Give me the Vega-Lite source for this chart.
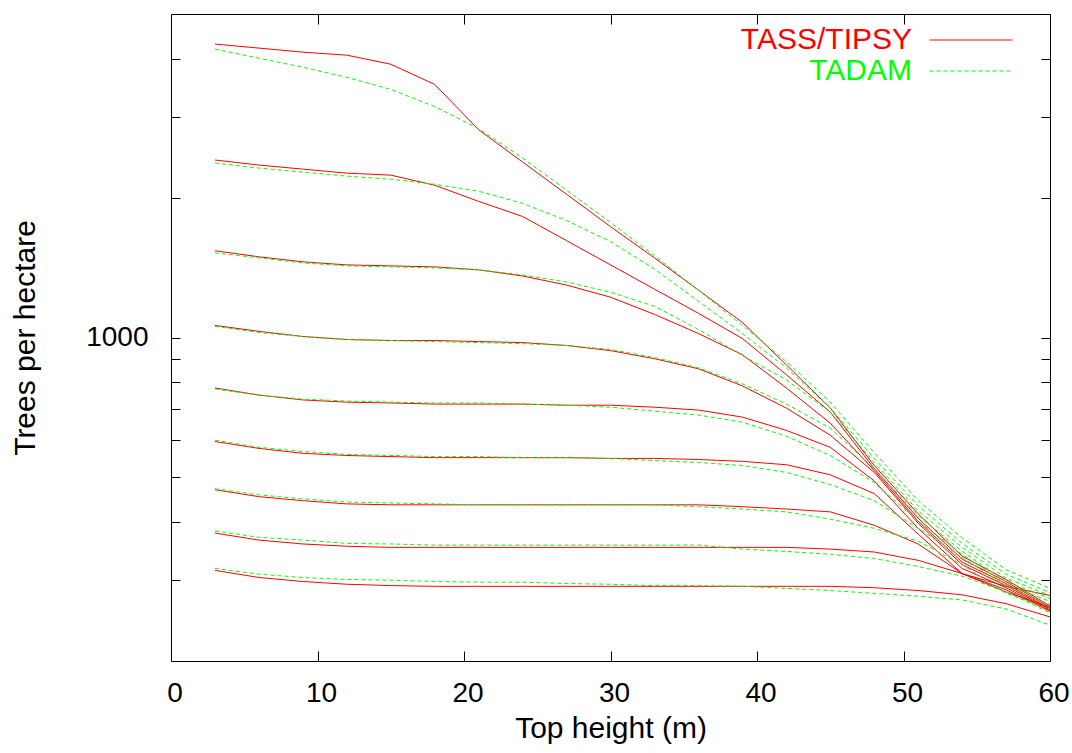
{
  "$schema": "https://vega.github.io/schema/vega-lite/v6.json",
  "width": 879,
  "height": 647,
  "autosize": {"type": "none"},
  "padding": {"left": 171, "top": 14, "right": 22, "bottom": 92},
  "background": "white",
  "config": {
    "view": {"stroke": null},
    "font": "Liberation Sans",
    "axis": {"grid": false, "domainColor": "black", "tickColor": "black", "labelColor": "black", "titleColor": "black", "labelFontSize": 28, "titleFontSize": 30, "titleFontWeight": "normal", "labelFont": "Liberation Sans", "titleFont": "Liberation Sans", "domainWidth": 1, "tickWidth": 1}
  },
  "datasets": {
    "tass": [
      {"model":"TASS/TIPSY","id":1,"h":3,"n":4305},{"model":"TASS/TIPSY","id":1,"h":6,"n":4220},{"model":"TASS/TIPSY","id":1,"h":9,"n":4135},{"model":"TASS/TIPSY","id":1,"h":12,"n":4074},{"model":"TASS/TIPSY","id":1,"h":15,"n":3894},{"model":"TASS/TIPSY","id":1,"h":18,"n":3522},{"model":"TASS/TIPSY","id":1,"h":21,"n":2811},{"model":"TASS/TIPSY","id":1,"h":24,"n":2394},{"model":"TASS/TIPSY","id":1,"h":27,"n":2039},{"model":"TASS/TIPSY","id":1,"h":30,"n":1736},{"model":"TASS/TIPSY","id":1,"h":33,"n":1486},{"model":"TASS/TIPSY","id":1,"h":36,"n":1266},{"model":"TASS/TIPSY","id":1,"h":39,"n":1078},{"model":"TASS/TIPSY","id":1,"h":42,"n":873},{"model":"TASS/TIPSY","id":1,"h":45,"n":704},{"model":"TASS/TIPSY","id":1,"h":48,"n":529},{"model":"TASS/TIPSY","id":1,"h":51,"n":416},{"model":"TASS/TIPSY","id":1,"h":54,"n":337},{"model":"TASS/TIPSY","id":1,"h":57,"n":300},{"model":"TASS/TIPSY","id":1,"h":60,"n":263},
      {"model":"TASS/TIPSY","id":2,"h":3,"n":2418},{"model":"TASS/TIPSY","id":2,"h":6,"n":2358},{"model":"TASS/TIPSY","id":2,"h":9,"n":2311},{"model":"TASS/TIPSY","id":2,"h":12,"n":2265},{"model":"TASS/TIPSY","id":2,"h":15,"n":2243},{"model":"TASS/TIPSY","id":2,"h":18,"n":2133},{"model":"TASS/TIPSY","id":2,"h":21,"n":1968},{"model":"TASS/TIPSY","id":2,"h":24,"n":1826},{"model":"TASS/TIPSY","id":2,"h":27,"n":1619},{"model":"TASS/TIPSY","id":2,"h":30,"n":1435},{"model":"TASS/TIPSY","id":2,"h":33,"n":1272},{"model":"TASS/TIPSY","id":2,"h":36,"n":1128},{"model":"TASS/TIPSY","id":2,"h":39,"n":995},{"model":"TASS/TIPSY","id":2,"h":42,"n":831},{"model":"TASS/TIPSY","id":2,"h":45,"n":690},{"model":"TASS/TIPSY","id":2,"h":48,"n":521},{"model":"TASS/TIPSY","id":2,"h":51,"n":407},{"model":"TASS/TIPSY","id":2,"h":54,"n":332},{"model":"TASS/TIPSY","id":2,"h":57,"n":297},{"model":"TASS/TIPSY","id":2,"h":60,"n":261},
      {"model":"TASS/TIPSY","id":3,"h":3,"n":1540},{"model":"TASS/TIPSY","id":3,"h":6,"n":1494},{"model":"TASS/TIPSY","id":3,"h":9,"n":1457},{"model":"TASS/TIPSY","id":3,"h":12,"n":1435},{"model":"TASS/TIPSY","id":3,"h":15,"n":1428},{"model":"TASS/TIPSY","id":3,"h":18,"n":1421},{"model":"TASS/TIPSY","id":3,"h":21,"n":1400},{"model":"TASS/TIPSY","id":3,"h":24,"n":1358},{"model":"TASS/TIPSY","id":3,"h":27,"n":1298},{"model":"TASS/TIPSY","id":3,"h":30,"n":1222},{"model":"TASS/TIPSY","id":3,"h":33,"n":1122},{"model":"TASS/TIPSY","id":3,"h":36,"n":1020},{"model":"TASS/TIPSY","id":3,"h":39,"n":918},{"model":"TASS/TIPSY","id":3,"h":42,"n":778},{"model":"TASS/TIPSY","id":3,"h":45,"n":653},{"model":"TASS/TIPSY","id":3,"h":48,"n":516},{"model":"TASS/TIPSY","id":3,"h":51,"n":401},{"model":"TASS/TIPSY","id":3,"h":54,"n":327},{"model":"TASS/TIPSY","id":3,"h":57,"n":294},{"model":"TASS/TIPSY","id":3,"h":60,"n":259},
      {"model":"TASS/TIPSY","id":4,"h":3,"n":1062},{"model":"TASS/TIPSY","id":4,"h":6,"n":1031},{"model":"TASS/TIPSY","id":4,"h":9,"n":1005},{"model":"TASS/TIPSY","id":4,"h":12,"n":990},{"model":"TASS/TIPSY","id":4,"h":15,"n":985},{"model":"TASS/TIPSY","id":4,"h":18,"n":985},{"model":"TASS/TIPSY","id":4,"h":21,"n":980},{"model":"TASS/TIPSY","id":4,"h":24,"n":975},{"model":"TASS/TIPSY","id":4,"h":27,"n":961},{"model":"TASS/TIPSY","id":4,"h":30,"n":937},{"model":"TASS/TIPSY","id":4,"h":33,"n":900},{"model":"TASS/TIPSY","id":4,"h":36,"n":856},{"model":"TASS/TIPSY","id":4,"h":39,"n":786},{"model":"TASS/TIPSY","id":4,"h":42,"n":704},{"model":"TASS/TIPSY","id":4,"h":45,"n":615},{"model":"TASS/TIPSY","id":4,"h":48,"n":511},{"model":"TASS/TIPSY","id":4,"h":51,"n":397},{"model":"TASS/TIPSY","id":4,"h":54,"n":323},{"model":"TASS/TIPSY","id":4,"h":57,"n":291},{"model":"TASS/TIPSY","id":4,"h":60,"n":258},
      {"model":"TASS/TIPSY","id":5,"h":3,"n":778},{"model":"TASS/TIPSY","id":5,"h":6,"n":751},{"model":"TASS/TIPSY","id":5,"h":9,"n":733},{"model":"TASS/TIPSY","id":5,"h":12,"n":725},{"model":"TASS/TIPSY","id":5,"h":15,"n":722},{"model":"TASS/TIPSY","id":5,"h":18,"n":718},{"model":"TASS/TIPSY","id":5,"h":21,"n":718},{"model":"TASS/TIPSY","id":5,"h":24,"n":718},{"model":"TASS/TIPSY","id":5,"h":27,"n":714},{"model":"TASS/TIPSY","id":5,"h":30,"n":714},{"model":"TASS/TIPSY","id":5,"h":33,"n":707},{"model":"TASS/TIPSY","id":5,"h":36,"n":697},{"model":"TASS/TIPSY","id":5,"h":39,"n":673},{"model":"TASS/TIPSY","id":5,"h":42,"n":630},{"model":"TASS/TIPSY","id":5,"h":45,"n":579},{"model":"TASS/TIPSY","id":5,"h":48,"n":490},{"model":"TASS/TIPSY","id":5,"h":51,"n":387},{"model":"TASS/TIPSY","id":5,"h":54,"n":317},{"model":"TASS/TIPSY","id":5,"h":57,"n":288},{"model":"TASS/TIPSY","id":5,"h":60,"n":257},
      {"model":"TASS/TIPSY","id":6,"h":3,"n":596},{"model":"TASS/TIPSY","id":6,"h":6,"n":576},{"model":"TASS/TIPSY","id":6,"h":9,"n":562},{"model":"TASS/TIPSY","id":6,"h":12,"n":556},{"model":"TASS/TIPSY","id":6,"h":15,"n":553},{"model":"TASS/TIPSY","id":6,"h":18,"n":550},{"model":"TASS/TIPSY","id":6,"h":21,"n":550},{"model":"TASS/TIPSY","id":6,"h":24,"n":550},{"model":"TASS/TIPSY","id":6,"h":27,"n":550},{"model":"TASS/TIPSY","id":6,"h":30,"n":548},{"model":"TASS/TIPSY","id":6,"h":33,"n":548},{"model":"TASS/TIPSY","id":6,"h":36,"n":545},{"model":"TASS/TIPSY","id":6,"h":39,"n":540},{"model":"TASS/TIPSY","id":6,"h":42,"n":531},{"model":"TASS/TIPSY","id":6,"h":45,"n":505},{"model":"TASS/TIPSY","id":6,"h":48,"n":460},{"model":"TASS/TIPSY","id":6,"h":51,"n":376},{"model":"TASS/TIPSY","id":6,"h":54,"n":309},{"model":"TASS/TIPSY","id":6,"h":57,"n":285},{"model":"TASS/TIPSY","id":6,"h":60,"n":256},
      {"model":"TASS/TIPSY","id":7,"h":3,"n":469},{"model":"TASS/TIPSY","id":7,"h":6,"n":453},{"model":"TASS/TIPSY","id":7,"h":9,"n":444},{"model":"TASS/TIPSY","id":7,"h":12,"n":437},{"model":"TASS/TIPSY","id":7,"h":15,"n":435},{"model":"TASS/TIPSY","id":7,"h":18,"n":435},{"model":"TASS/TIPSY","id":7,"h":21,"n":435},{"model":"TASS/TIPSY","id":7,"h":24,"n":435},{"model":"TASS/TIPSY","id":7,"h":27,"n":435},{"model":"TASS/TIPSY","id":7,"h":30,"n":435},{"model":"TASS/TIPSY","id":7,"h":33,"n":435},{"model":"TASS/TIPSY","id":7,"h":36,"n":435},{"model":"TASS/TIPSY","id":7,"h":39,"n":431},{"model":"TASS/TIPSY","id":7,"h":42,"n":426},{"model":"TASS/TIPSY","id":7,"h":45,"n":420},{"model":"TASS/TIPSY","id":7,"h":48,"n":393},{"model":"TASS/TIPSY","id":7,"h":51,"n":358},{"model":"TASS/TIPSY","id":7,"h":54,"n":309},{"model":"TASS/TIPSY","id":7,"h":57,"n":282},{"model":"TASS/TIPSY","id":7,"h":60,"n":261},
      {"model":"TASS/TIPSY","id":8,"h":3,"n":378},{"model":"TASS/TIPSY","id":8,"h":6,"n":365},{"model":"TASS/TIPSY","id":8,"h":9,"n":358},{"model":"TASS/TIPSY","id":8,"h":12,"n":354},{"model":"TASS/TIPSY","id":8,"h":15,"n":352},{"model":"TASS/TIPSY","id":8,"h":18,"n":352},{"model":"TASS/TIPSY","id":8,"h":21,"n":352},{"model":"TASS/TIPSY","id":8,"h":24,"n":352},{"model":"TASS/TIPSY","id":8,"h":27,"n":352},{"model":"TASS/TIPSY","id":8,"h":30,"n":352},{"model":"TASS/TIPSY","id":8,"h":33,"n":352},{"model":"TASS/TIPSY","id":8,"h":36,"n":352},{"model":"TASS/TIPSY","id":8,"h":39,"n":352},{"model":"TASS/TIPSY","id":8,"h":42,"n":352},{"model":"TASS/TIPSY","id":8,"h":45,"n":349},{"model":"TASS/TIPSY","id":8,"h":48,"n":344},{"model":"TASS/TIPSY","id":8,"h":51,"n":330},{"model":"TASS/TIPSY","id":8,"h":54,"n":309},{"model":"TASS/TIPSY","id":8,"h":57,"n":290},{"model":"TASS/TIPSY","id":8,"h":60,"n":277},
      {"model":"TASS/TIPSY","id":9,"h":3,"n":314},{"model":"TASS/TIPSY","id":9,"h":6,"n":303},{"model":"TASS/TIPSY","id":9,"h":9,"n":297},{"model":"TASS/TIPSY","id":9,"h":12,"n":293},{"model":"TASS/TIPSY","id":9,"h":15,"n":291},{"model":"TASS/TIPSY","id":9,"h":18,"n":290},{"model":"TASS/TIPSY","id":9,"h":21,"n":290},{"model":"TASS/TIPSY","id":9,"h":24,"n":290},{"model":"TASS/TIPSY","id":9,"h":27,"n":290},{"model":"TASS/TIPSY","id":9,"h":30,"n":290},{"model":"TASS/TIPSY","id":9,"h":33,"n":290},{"model":"TASS/TIPSY","id":9,"h":36,"n":290},{"model":"TASS/TIPSY","id":9,"h":39,"n":290},{"model":"TASS/TIPSY","id":9,"h":42,"n":290},{"model":"TASS/TIPSY","id":9,"h":45,"n":290},{"model":"TASS/TIPSY","id":9,"h":48,"n":288},{"model":"TASS/TIPSY","id":9,"h":51,"n":284},{"model":"TASS/TIPSY","id":9,"h":54,"n":278},{"model":"TASS/TIPSY","id":9,"h":57,"n":266},{"model":"TASS/TIPSY","id":9,"h":60,"n":249}
    ],
    "tadam": [
      {"model":"TADAM","id":1,"h":3,"n":4198},{"model":"TADAM","id":1,"h":6,"n":4013},{"model":"TADAM","id":1,"h":9,"n":3836},{"model":"TADAM","id":1,"h":12,"n":3648},{"model":"TADAM","id":1,"h":15,"n":3435},{"model":"TADAM","id":1,"h":18,"n":3154},{"model":"TADAM","id":1,"h":21,"n":2825},{"model":"TADAM","id":1,"h":24,"n":2442},{"model":"TADAM","id":1,"h":27,"n":2080},{"model":"TADAM","id":1,"h":30,"n":1772},{"model":"TADAM","id":1,"h":33,"n":1501},{"model":"TADAM","id":1,"h":36,"n":1266},{"model":"TADAM","id":1,"h":39,"n":1062},{"model":"TADAM","id":1,"h":42,"n":887},{"model":"TADAM","id":1,"h":45,"n":725},{"model":"TADAM","id":1,"h":48,"n":564},{"model":"TADAM","id":1,"h":51,"n":444},{"model":"TADAM","id":1,"h":54,"n":369},{"model":"TADAM","id":1,"h":57,"n":315},{"model":"TADAM","id":1,"h":60,"n":287},
      {"model":"TADAM","id":2,"h":3,"n":2382},{"model":"TADAM","id":2,"h":6,"n":2323},{"model":"TADAM","id":2,"h":9,"n":2277},{"model":"TADAM","id":2,"h":12,"n":2232},{"model":"TADAM","id":2,"h":15,"n":2198},{"model":"TADAM","id":2,"h":18,"n":2143},{"model":"TADAM","id":2,"h":21,"n":2070},{"model":"TADAM","id":2,"h":24,"n":1949},{"model":"TADAM","id":2,"h":27,"n":1789},{"model":"TADAM","id":2,"h":30,"n":1611},{"model":"TADAM","id":2,"h":33,"n":1406},{"model":"TADAM","id":2,"h":36,"n":1198},{"model":"TADAM","id":2,"h":39,"n":1020},{"model":"TADAM","id":2,"h":42,"n":860},{"model":"TADAM","id":2,"h":45,"n":704},{"model":"TADAM","id":2,"h":48,"n":548},{"model":"TADAM","id":2,"h":51,"n":433},{"model":"TADAM","id":2,"h":54,"n":359},{"model":"TADAM","id":2,"h":57,"n":308},{"model":"TADAM","id":2,"h":60,"n":281},
      {"model":"TADAM","id":3,"h":3,"n":1524},{"model":"TADAM","id":3,"h":6,"n":1486},{"model":"TADAM","id":3,"h":9,"n":1449},{"model":"TADAM","id":3,"h":12,"n":1428},{"model":"TADAM","id":3,"h":15,"n":1421},{"model":"TADAM","id":3,"h":18,"n":1414},{"model":"TADAM","id":3,"h":21,"n":1400},{"model":"TADAM","id":3,"h":24,"n":1365},{"model":"TADAM","id":3,"h":27,"n":1318},{"model":"TADAM","id":3,"h":30,"n":1253},{"model":"TADAM","id":3,"h":33,"n":1168},{"model":"TADAM","id":3,"h":36,"n":1041},{"model":"TADAM","id":3,"h":39,"n":914},{"model":"TADAM","id":3,"h":42,"n":810},{"model":"TADAM","id":3,"h":45,"n":690},{"model":"TADAM","id":3,"h":48,"n":537},{"model":"TADAM","id":3,"h":51,"n":422},{"model":"TADAM","id":3,"h":54,"n":352},{"model":"TADAM","id":3,"h":57,"n":302},{"model":"TADAM","id":3,"h":60,"n":277},
      {"model":"TADAM","id":4,"h":3,"n":1057},{"model":"TADAM","id":4,"h":6,"n":1025},{"model":"TADAM","id":4,"h":9,"n":1005},{"model":"TADAM","id":4,"h":12,"n":990},{"model":"TADAM","id":4,"h":15,"n":985},{"model":"TADAM","id":4,"h":18,"n":980},{"model":"TADAM","id":4,"h":21,"n":975},{"model":"TADAM","id":4,"h":24,"n":970},{"model":"TADAM","id":4,"h":27,"n":961},{"model":"TADAM","id":4,"h":30,"n":942},{"model":"TADAM","id":4,"h":33,"n":905},{"model":"TADAM","id":4,"h":36,"n":860},{"model":"TADAM","id":4,"h":39,"n":794},{"model":"TADAM","id":4,"h":42,"n":718},{"model":"TADAM","id":4,"h":45,"n":637},{"model":"TADAM","id":4,"h":48,"n":521},{"model":"TADAM","id":4,"h":51,"n":412},{"model":"TADAM","id":4,"h":54,"n":345},{"model":"TADAM","id":4,"h":57,"n":297},{"model":"TADAM","id":4,"h":60,"n":273},
      {"model":"TADAM","id":5,"h":3,"n":774},{"model":"TADAM","id":5,"h":6,"n":751},{"model":"TADAM","id":5,"h":9,"n":736},{"model":"TADAM","id":5,"h":12,"n":729},{"model":"TADAM","id":5,"h":15,"n":725},{"model":"TADAM","id":5,"h":18,"n":722},{"model":"TADAM","id":5,"h":21,"n":722},{"model":"TADAM","id":5,"h":24,"n":718},{"model":"TADAM","id":5,"h":27,"n":714},{"model":"TADAM","id":5,"h":30,"n":707},{"model":"TADAM","id":5,"h":33,"n":693},{"model":"TADAM","id":5,"h":36,"n":680},{"model":"TADAM","id":5,"h":39,"n":656},{"model":"TADAM","id":5,"h":42,"n":612},{"model":"TADAM","id":5,"h":45,"n":556},{"model":"TADAM","id":5,"h":48,"n":486},{"model":"TADAM","id":5,"h":51,"n":401},{"model":"TADAM","id":5,"h":54,"n":340},{"model":"TADAM","id":5,"h":57,"n":293},{"model":"TADAM","id":5,"h":60,"n":269},
      {"model":"TADAM","id":6,"h":3,"n":600},{"model":"TADAM","id":6,"h":6,"n":579},{"model":"TADAM","id":6,"h":9,"n":567},{"model":"TADAM","id":6,"h":12,"n":559},{"model":"TADAM","id":6,"h":15,"n":556},{"model":"TADAM","id":6,"h":18,"n":553},{"model":"TADAM","id":6,"h":21,"n":553},{"model":"TADAM","id":6,"h":24,"n":550},{"model":"TADAM","id":6,"h":27,"n":550},{"model":"TADAM","id":6,"h":30,"n":548},{"model":"TADAM","id":6,"h":33,"n":542},{"model":"TADAM","id":6,"h":36,"n":537},{"model":"TADAM","id":6,"h":39,"n":529},{"model":"TADAM","id":6,"h":42,"n":511},{"model":"TADAM","id":6,"h":45,"n":481},{"model":"TADAM","id":6,"h":48,"n":444},{"model":"TADAM","id":6,"h":51,"n":387},{"model":"TADAM","id":6,"h":54,"n":335},{"model":"TADAM","id":6,"h":57,"n":290},{"model":"TADAM","id":6,"h":60,"n":265},
      {"model":"TADAM","id":7,"h":3,"n":471},{"model":"TADAM","id":7,"h":6,"n":457},{"model":"TADAM","id":7,"h":9,"n":448},{"model":"TADAM","id":7,"h":12,"n":441},{"model":"TADAM","id":7,"h":15,"n":439},{"model":"TADAM","id":7,"h":18,"n":437},{"model":"TADAM","id":7,"h":21,"n":435},{"model":"TADAM","id":7,"h":24,"n":435},{"model":"TADAM","id":7,"h":27,"n":435},{"model":"TADAM","id":7,"h":30,"n":435},{"model":"TADAM","id":7,"h":33,"n":435},{"model":"TADAM","id":7,"h":36,"n":431},{"model":"TADAM","id":7,"h":39,"n":426},{"model":"TADAM","id":7,"h":42,"n":420},{"model":"TADAM","id":7,"h":45,"n":405},{"model":"TADAM","id":7,"h":48,"n":387},{"model":"TADAM","id":7,"h":51,"n":363},{"model":"TADAM","id":7,"h":54,"n":323},{"model":"TADAM","id":7,"h":57,"n":280},{"model":"TADAM","id":7,"h":60,"n":259},
      {"model":"TADAM","id":8,"h":3,"n":382},{"model":"TADAM","id":8,"h":6,"n":370},{"model":"TADAM","id":8,"h":9,"n":365},{"model":"TADAM","id":8,"h":12,"n":359},{"model":"TADAM","id":8,"h":15,"n":358},{"model":"TADAM","id":8,"h":18,"n":356},{"model":"TADAM","id":8,"h":21,"n":356},{"model":"TADAM","id":8,"h":24,"n":356},{"model":"TADAM","id":8,"h":27,"n":356},{"model":"TADAM","id":8,"h":30,"n":356},{"model":"TADAM","id":8,"h":33,"n":356},{"model":"TADAM","id":8,"h":36,"n":356},{"model":"TADAM","id":8,"h":39,"n":349},{"model":"TADAM","id":8,"h":42,"n":345},{"model":"TADAM","id":8,"h":45,"n":340},{"model":"TADAM","id":8,"h":48,"n":333},{"model":"TADAM","id":8,"h":51,"n":320},{"model":"TADAM","id":8,"h":54,"n":305},{"model":"TADAM","id":8,"h":57,"n":282},{"model":"TADAM","id":8,"h":60,"n":254},
      {"model":"TADAM","id":9,"h":3,"n":317},{"model":"TADAM","id":9,"h":6,"n":308},{"model":"TADAM","id":9,"h":9,"n":303},{"model":"TADAM","id":9,"h":12,"n":300},{"model":"TADAM","id":9,"h":15,"n":299},{"model":"TADAM","id":9,"h":18,"n":297},{"model":"TADAM","id":9,"h":21,"n":296},{"model":"TADAM","id":9,"h":24,"n":296},{"model":"TADAM","id":9,"h":27,"n":294},{"model":"TADAM","id":9,"h":30,"n":293},{"model":"TADAM","id":9,"h":33,"n":291},{"model":"TADAM","id":9,"h":36,"n":291},{"model":"TADAM","id":9,"h":39,"n":290},{"model":"TADAM","id":9,"h":42,"n":287},{"model":"TADAM","id":9,"h":45,"n":284},{"model":"TADAM","id":9,"h":48,"n":280},{"model":"TADAM","id":9,"h":51,"n":276},{"model":"TADAM","id":9,"h":54,"n":271},{"model":"TADAM","id":9,"h":57,"n":259},{"model":"TADAM","id":9,"h":60,"n":239}
    ]
  },
  "layer": [
    {
      "data": {"name": "tass"},
      "mark": {"type": "line", "strokeWidth": 1, "clip": true},
      "encoding": {
        "x": {"field": "h", "type": "quantitative", "scale": {"domain": [0, 60], "nice": false, "zero": false},
          "axis": {"orient": "bottom", "values": [0, 10, 20, 30, 40, 50, 60], "tickSize": -10, "labelPadding": 28, "labelFlush": false, "labelOverlap": false, "labelOffset": 3.5, "title": "Top height (m)", "titlePadding": 6}},
        "y": {"field": "n", "type": "quantitative", "scale": {"type": "log", "domain": [200, 5000], "nice": false},
          "axis": {"orient": "left", "values": [300, 400, 500, 600, 700, 800, 900, 1000, 2000, 3000, 4000], "labelExpr": "datum.value == 1000 ? '1000' : ''", "tickSize": -9, "labelPadding": 32, "labelOverlap": false, "title": "Trees per hectare", "titlePadding": 45,
            "encode": {"ticks": {"update": {"x2": {"signal": "datum.value == 1000 ? 9 : 4.5"}}}}}},
        "color": {"field": "model", "type": "nominal", "scale": {"domain": ["TASS/TIPSY", "TADAM"], "range": ["#ff0000", "#00ff00"]},
          "legend": {"orient": "none", "legendX": 785, "legendY": 11, "title": null, "padding": 0, "symbolType": "M-4,0L4,0", "symbolSize": 431, "symbolStrokeWidth": 1, "labelFontSize": 30, "labelFont": "Liberation Sans", "labelAlign": "right", "labelOffset": -74, "labelLimit": 0, "rowPadding": 1,
            "encode": {"labels": {"update": {"fill": {"signal": "datum.value === 'TADAM' ? '#00ff00' : '#ff0000'"}}}, "symbols": {"update": {"stroke": {"signal": "datum.value === 'TADAM' ? '#00ff00' : '#ff0000'"}, "strokeWidth": {"value": 1.2}, "strokeDash": {"signal": "datum.value === 'TADAM' ? [4, 3] : [200, 0]"}}}}}},
        "detail": {"field": "id", "type": "nominal"}
      }
    },
    {
      "data": {"name": "tadam"},
      "mark": {"type": "line", "strokeWidth": 1, "color": "#00ff00", "strokeDash": [4, 3], "clip": true},
      "encoding": {
        "x": {"field": "h", "type": "quantitative",
          "axis": {"orient": "top", "values": [0, 10, 20, 30, 40, 50, 60], "tickSize": -10, "labels": false, "title": null}},
        "y": {"field": "n", "type": "quantitative",
          "axis": {"orient": "right", "values": [300, 400, 500, 600, 700, 800, 900, 1000, 2000, 3000, 4000], "tickSize": -9, "labels": false, "title": null,
            "encode": {"ticks": {"update": {"x2": {"signal": "datum.value == 1000 ? -9 : -4.5"}}}}}},
        "detail": {"field": "id", "type": "nominal"}
      }
    }
  ],
  "resolve": {"axis": {"x": "independent", "y": "independent"}}
}
